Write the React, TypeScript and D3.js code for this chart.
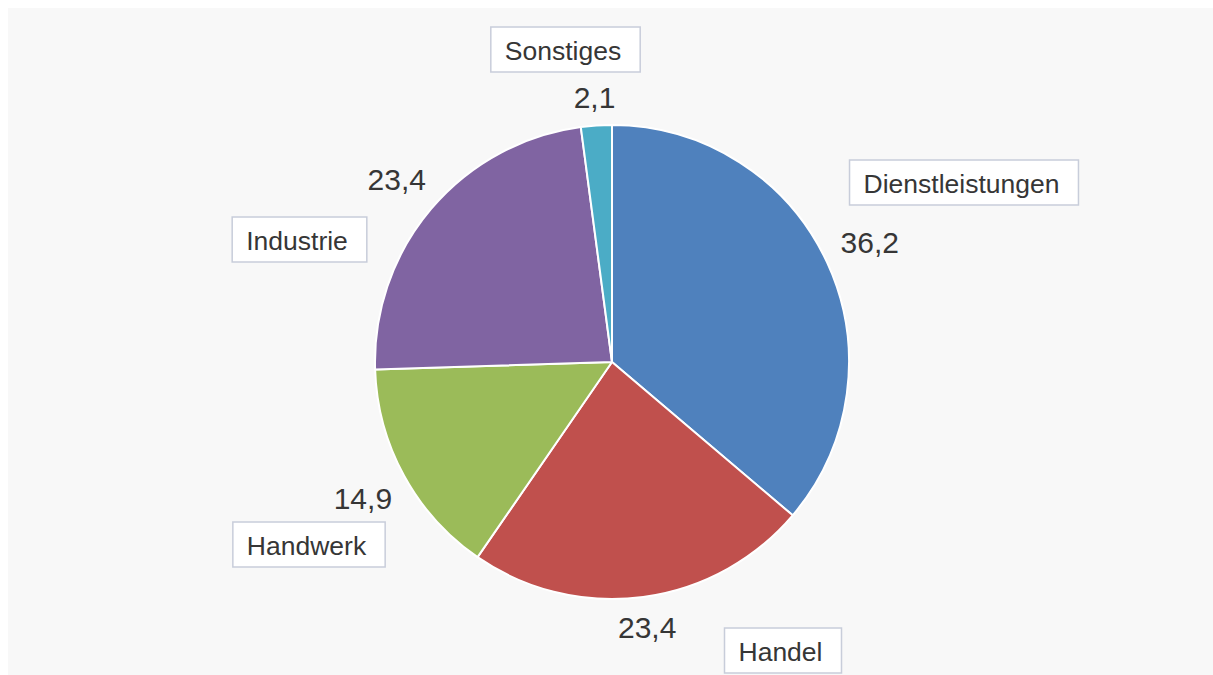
import React, { useEffect, useMemo } from "react";
import * as d3 from "d3";

// ---- data ----
const categories = ["Dienstleistungen", "Handel", "Handwerk", "Industrie", "Sonstiges"];
const values = [36.2, 23.4, 14.9, 23.4, 2.1];
const colors = ["#4f81bd", "#c0504d", "#9bbb59", "#8064a2", "#4bacc6"];

// ---- layout (label box centres relative to pie centre, px) ----
const boxOffsets: [number, number][] = [
  [352, -179.5],
  [171, 288.5],
  [-303, 182.5],
  [-312.5, -122.5],
  [-46.5, -312.5],
];

const W = 1205;
const H = 667;
const CX = 604;
const CY = 354;
const R = 237;
const VALUE_FS = 30;
const LABEL_FS = 26.5;
const FONT = '"Liberation Sans", Arial, Helvetica, sans-serif';

const locale = d3.formatLocale({ decimal: ",", thousands: ".", grouping: [3], currency: ["", "€"] });
const fmt = locale.format(".1f");

function useMeasure() {
  return useMemo(() => {
    const ctx = document.createElement("canvas").getContext("2d")!;
    return (text: string, fs: number) => {
      ctx.font = `${fs}px "Liberation Sans", Arial, sans-serif`;
      return ctx.measureText(text).width;
    };
  }, []);
}

export default function App() {
  useEffect(() => {
    document.body.style.overflow = "hidden";
  }, []);
  const measure = useMeasure();

  const pie = d3
    .pie<number>()
    .sort(null)
    .value((d) => d)
    .startAngle(0)
    .endAngle(2 * Math.PI);
  const arcs = pie(values);
  const arc = d3.arc<d3.PieArcDatum<number>>().innerRadius(0).outerRadius(R);

  const capH = VALUE_FS * 0.72;
  const R0 = R + 16;

  return (
    <svg
      width={W}
      height={H}
      style={{ position: "absolute", left: 8, top: 8, display: "block", background: "#f8f8f8" }}
      fontFamily={FONT}
    >
      <rect x={0} y={0} width={W} height={H} fill="#f8f8f8" />
      <g transform={`translate(${CX},${CY})`}>
        {arcs.map((a, i) => (
          <path key={categories[i]} d={arc(a) || ""} fill={colors[i]} stroke="#ffffff" strokeWidth={2} strokeLinejoin="round" />
        ))}
        {arcs.map((a, i) => {
          const mid = (a.startAngle + a.endAngle) / 2;
          const sx = Math.sin(mid);
          const sy = -Math.cos(mid);
          const txt = fmt(values[i]);
          const w = measure(txt, VALUE_FS);
          const dist = R0 + Math.abs(sx) * (w / 2) + Math.abs(sy) * (capH / 2);
          return (
            <text
              key={"v" + i}
              x={sx * dist}
              y={sy * dist}
              dy={capH / 2}
              textAnchor="middle"
              fontSize={VALUE_FS}
              fill="#363636"
            >
              {txt}
            </text>
          );
        })}
        {categories.map((c, i) => {
          const tw = measure(c, LABEL_FS);
          const bw = tw + 33;
          const bh = 45;
          const [ox, oy] = boxOffsets[i];
          const left = ox - bw / 2;
          const top = oy - bh / 2;
          return (
            <g key={"l" + i}>
              <rect x={left} y={top} width={bw} height={bh} fill="#ffffff" stroke="#c8cdda" strokeWidth={1.5} />
              <text x={left + 14} y={oy + LABEL_FS * 0.36 + 1} fontSize={LABEL_FS} fill="#363636">
                {c}
              </text>
            </g>
          );
        })}
      </g>
    </svg>
  );
}
